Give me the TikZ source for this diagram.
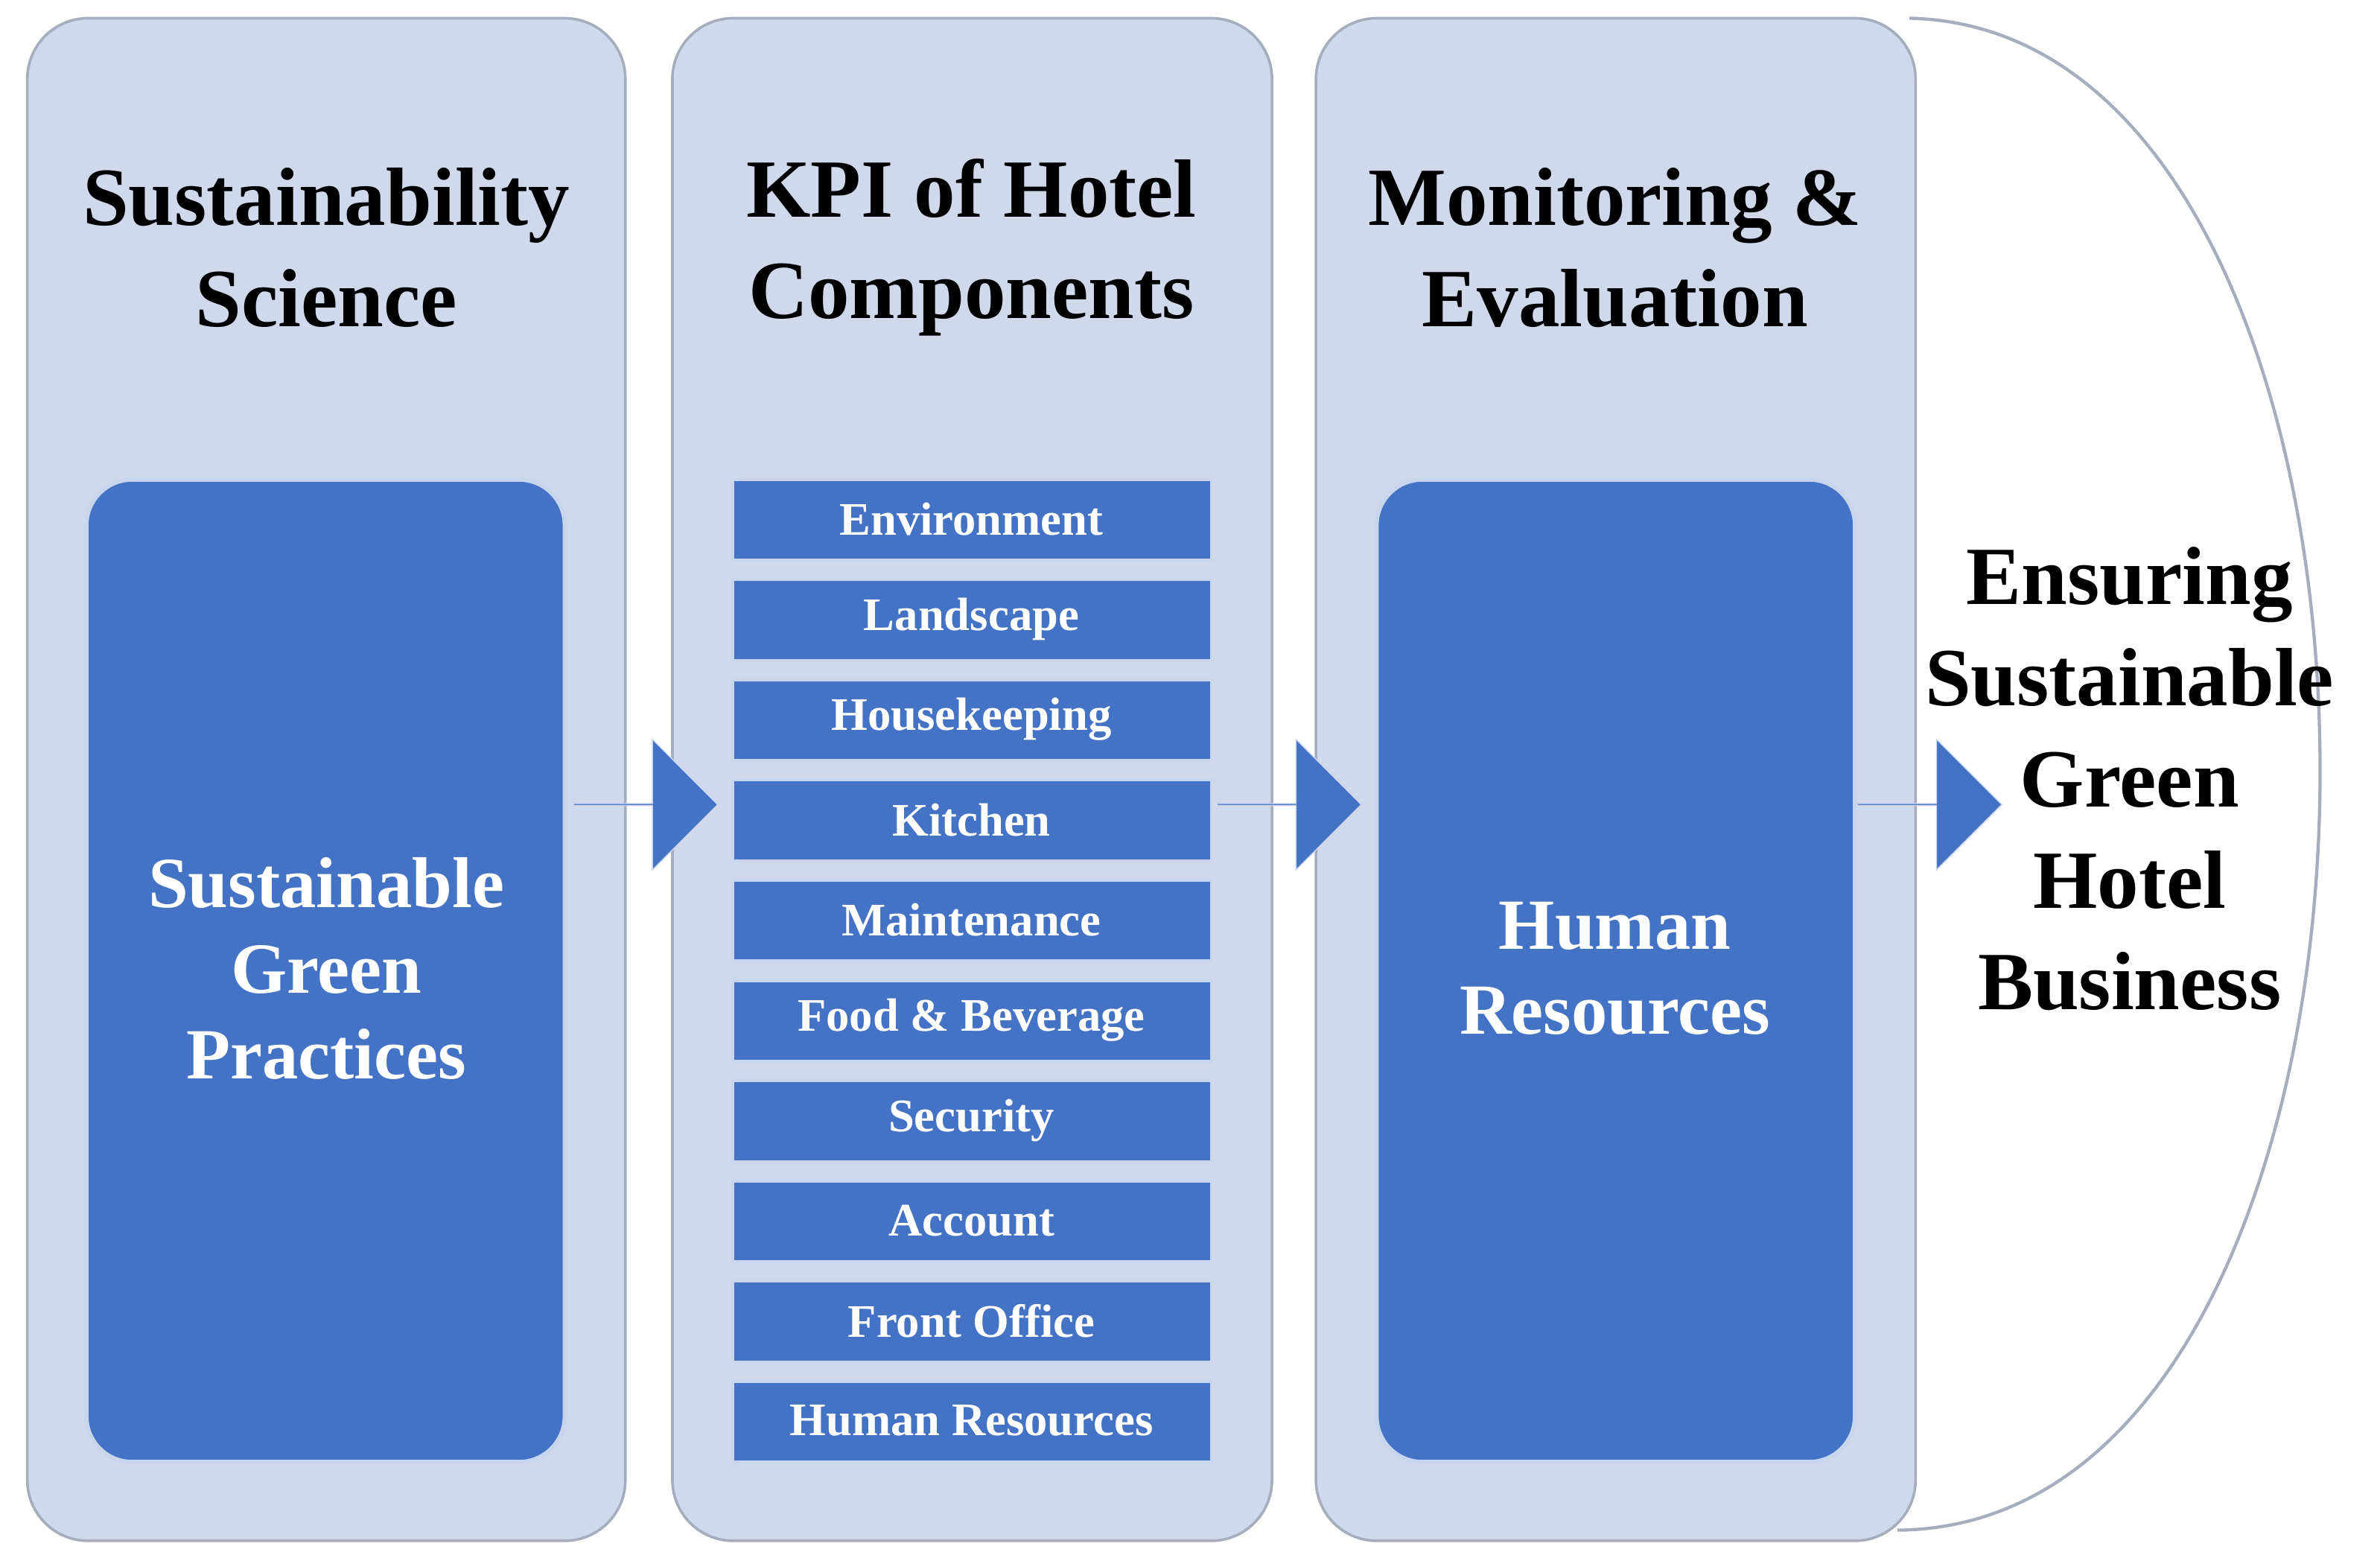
\documentclass[tikz,border=0pt]{standalone}
\usepackage{fontspec}
\setmainfont{Liberation Serif}
\usetikzlibrary{shapes.arrows}
\definecolor{lav}{HTML}{D0D8EC}
\definecolor{blu}{HTML}{4472C4}
\definecolor{edge}{HTML}{A6ADBD}
\begin{document}
\begin{tikzpicture}[x=0.02cm,y=-0.02cm,
 col/.style={draw=edge,line width=1pt,fill=lav,rounded corners=40*0.02cm},
 inner/.style={draw=white!70!blu,line width=1.5pt,fill=blu,rounded corners=30*0.02cm},
 kbox/.style={draw=white!70!blu,line width=1pt,fill=blu},
 ttl/.style={align=center,font=\bfseries\fontsize{31}{38}\selectfont,text=black},
 itxt/.style={align=center,font=\bfseries\fontsize{27}{32}\selectfont,text=white},
 ktxt/.style={font=\bfseries\fontsize{17.5}{20}\selectfont,text=white},
 arr/.style={single arrow,fill=blu,draw=white!70!blu,minimum height=95*0.02cm,minimum width=86*0.02cm,single arrow head extend=23*0.02cm,inner sep=0pt,anchor=center}]
\useasboundingbox (0,0) rectangle (1568,1028);
\draw[edge,line width=1.2pt] (1258,12) .. controls (1620,20) and (1620,1005) .. (1250,1008) coordinate (arcend);
\draw[col] (18,12) rectangle (412,1015);
\draw[col] (443,12) rectangle (838,1015);
\draw[col] (867,12) rectangle (1262,1015);
\node[ttl] (t1) at (215,163) {Sustainability\\Science};
\node[ttl] (t2) at (640,163) {KPI of Hotel\\Components};
\node[ttl] (t3) at (1064,163) {Monitoring \&\\Evaluation};
\draw[inner] (57,316) rectangle (372,963);
\draw[inner] (907,316) rectangle (1222,963);
\node[itxt] (i1) at (215,638) {Sustainable\\Green\\Practices};
\node[itxt] (i3) at (1064,638) {Human\\Resources};
\foreach \t [count=\i from 0] in {Environment,Landscape,Housekeeping,Kitchen,Maintenance,Food \& Beverage,Security,Account,Front Office,Human Resources}{
  \draw[kbox] (483,316+66*\i) rectangle (798,369+66*\i);
  \node[ktxt] (k\i) at (640,342+66*\i) {\t};
}
\node[arr] (a1) at (425,530) {};
\node[arr] (a2) at (849,530) {};
\node[arr] (a3) at (1271,530) {};
\node[ttl] (out) at (1403,513) {Ensuring\\Sustainable\\Green\\Hotel\\Business};
\end{tikzpicture}
\end{document}
